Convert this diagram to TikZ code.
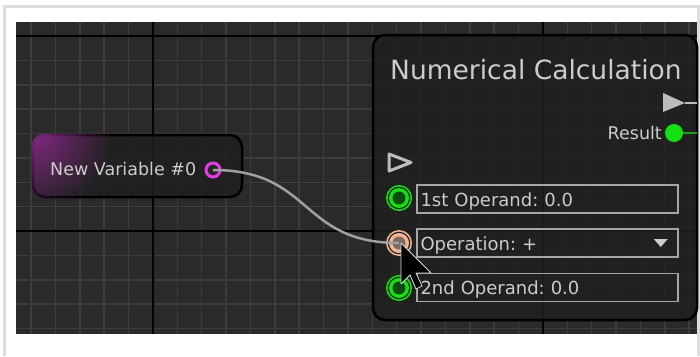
\documentclass[tikz,border=0pt]{standalone}
\usepackage{fontspec}
\setmainfont{DejaVu Sans}
\frenchspacing
\usetikzlibrary{positioning,calc,fadings}

\definecolor{canvas}{HTML}{2A2A2A}
\definecolor{gridline}{HTML}{3C3C3C}
\definecolor{nodefill}{HTML}{1F1F1F}
\definecolor{txt}{HTML}{CCCCCC}
\definecolor{fieldline}{HTML}{A6A6A6}
\definecolor{portgreen}{HTML}{14E014}
\definecolor{portdark}{HTML}{0B4A10}
\definecolor{peach}{HTML}{F2B594}
\definecolor{peachdark}{HTML}{7D6A60}
\definecolor{magport}{HTML}{E63CE6}
\definecolor{nodemag}{HTML}{8A2A8A}
\definecolor{wirecol}{HTML}{A0A0A0}
\definecolor{execgray}{HTML}{BDBDBD}
\definecolor{resline}{HTML}{1AA01A}
\definecolor{framecol}{HTML}{DCDCDC}

\tikzfading[name=magfade, inner color=transparent!0, outer color=transparent!100]

\begin{document}
\begin{tikzpicture}[x=1pt, y=-1pt,
  lab/.style={text=txt, inner sep=0pt, anchor=base west},
  box/.style={draw=black, line width=2.5pt, rounded corners=12pt, fill=nodefill, fill opacity=0.86},
  field/.style={draw=fieldline, line width=1.5pt, minimum width=261pt, minimum height=28pt,
    text width=254pt, align=left, inner xsep=3.5pt, inner ysep=0pt,
    text height=16pt, text depth=2pt, text=txt, font=\fontsize{18}{20}\selectfont},
  wire/.style={wirecol, line width=2.5pt},
  minor/.style={gridline, line width=1.5pt},
  major/.style={black, line width=2pt}
]
\useasboundingbox (0,0) rectangle (700,356);

% Frame and canvas
\draw[framecol, line width=3pt] (4,356) -- (4,6) -- (698,6) -- (698,356);
\fill[canvas] (16,22) rectangle (697,334);

% Grid
\begin{scope}
  \clip (16,22) rectangle (697,334);
  \foreach \i in {0,...,27} {
    \draw[minor] ({31.1+\i*24.375},22) -- ++(0,312);
  }
  \foreach \j in {0,...,12} {
    \draw[minor] (16,{36+\j*24.375}) -- ++(681,0);
  }
  \draw[major] (153,22) -- (153,334);
  \draw[major] (543,22) -- (543,334);
  \draw[major] (16,36) -- (697,36);
  \draw[major] (16,231) -- (697,231);
\end{scope}

% Variable node
\node[box, minimum width=209pt, minimum height=62pt] (var) at (137.5,166) {};
\begin{scope}
  \clip[rounded corners=12pt] (var.north west) rectangle (var.south east);
  \fill[nodemag, path fading=magfade] ($(var.north west)+(-4,-4)$) circle (85);
\end{scope}
\node[lab, font=\fontsize{17.5}{20}\selectfont] (varname) at (50,175) {New Variable \#0};
\node[circle, draw=magport, line width=3pt, fill=gray!30!black, minimum size=14pt, inner sep=0pt]
  (varport) at (213,170) {};

% Calculation node
\node[box, minimum width=324pt, minimum height=285pt] (calc) at (535,177.5) {};
\node[lab, font=\fontsize{26.5}{30}\selectfont] (title) at (390,79) {Numerical Calculation};

% Exec in / out
\draw[execgray, line width=3pt, line join=round] (389,154) -- (389,171) -- (411,162.5) -- cycle;
\coordinate (execedge) at (697,103);
\coordinate (execout) at (685,103);
\draw[execgray, line width=2pt] (execout) -- (execedge);
\fill[execgray] (663,93) -- (663,112) -- (execout) -- cycle;

% Result
\coordinate (resedge) at (697,133);
\node[circle, fill=portgreen, minimum size=18pt, inner sep=0pt] (resport) at (674,133) {};
\draw[resline, line width=2pt] (resport.east) -- (resedge);
\node[lab, anchor=base east, font=\fontsize{17.5}{20}\selectfont] (reslab) at (662,139) {Result};

% Fields
\node[field] (f1) at (547.5,199) {1st Operand: 0.0};
\node[field] (fop) at (547.5,243) {Operation: +};
\node[field] (f2) at (547.5,287.5) {2nd Operand: 0.0};
\fill[txt] ($(fop.east)+(-25,-4)$) -- ++(14,0) -- ++(-7,8) -- cycle;

% Input ports
\foreach \n/\y/\c/\d in {op1port/198/portgreen/portdark, opport/243/peach/peachdark, op2port/288/portgreen/portdark} {
  \fill[\c] (399,\y) circle (13);
  \fill[nodefill] (399,\y) circle (11.3);
  \fill[\c] (399,\y) circle (10);
  \node[circle, fill=\d, minimum size=13pt, inner sep=0pt] (\n) at (399,\y) {};
}

% Connection
\draw[wire] (varport.center) .. controls +(100,0) and +(-100,0) .. (opport.center);

% Mouse pointer
\fill[black, draw=white!85!black, line width=0.8pt, line join=round]
  (401,243) -- (401,284) -- (410,275) -- (416,289) -- (422,286) -- (416,273) -- (431,273) -- cycle;

\end{tikzpicture}
\end{document}
